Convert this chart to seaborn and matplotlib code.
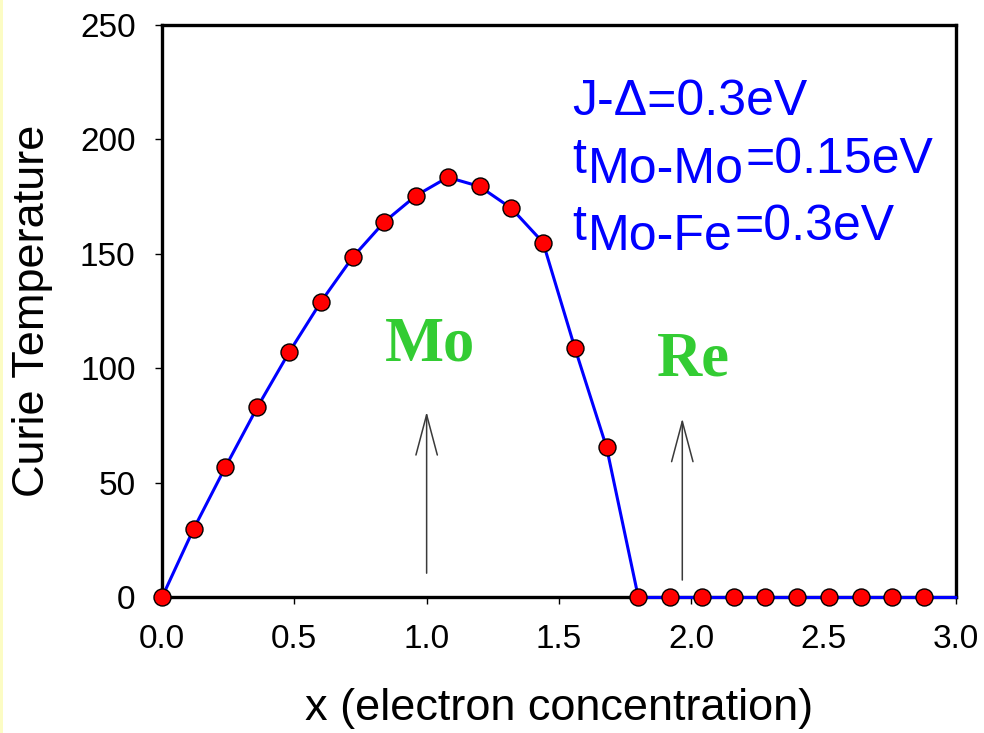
import matplotlib
matplotlib.use("Agg")
import matplotlib.pyplot as plt
import matplotlib.transforms as mtransforms
from matplotlib.patches import Rectangle
import seaborn as sns
import pandas as pd

# Curie temperature vs. electron concentration (x = 0 ... 2.88 in steps of 0.12)
x_conc = [0.00, 0.12, 0.24, 0.36, 0.48, 0.60, 0.72, 0.84, 0.96, 1.08,
          1.20, 1.32, 1.44, 1.56, 1.68, 1.80, 1.92, 2.04, 2.16, 2.28,
          2.40, 2.52, 2.64, 2.76, 2.88]
curie_t = [0, 30, 57, 83, 107, 129, 148.5, 164, 175.5, 183.5,
           179.5, 170, 155, 109, 65.5, 0, 0, 0, 0, 0,
           0, 0, 0, 0, 0]
# the curve runs on to the edge of the range
x_line_end = 3.0
curie_line_end = 0

x_ticks = [0.0, 0.5, 1.0, 1.5, 2.0, 2.5, 3.0]
y_ticks = [0, 50, 100, 150, 200, 250]

params_lines = [
    [("J-\u0394=0.3eV", 0)],
    [("t", 0), ("Mo-Mo", -7.2), ("=0.15eV", 0)],
    [("t", 0), ("Mo-Fe", -7.2), ("=0.3eV", 0)],
]
param_baselines = [210.5, 185.2, 156.0]

element_labels = ["Mo", "Re"]
element_pos = [(1.013, 103.6), (2.008, 97.1)]
arrow_x = [1.0, 1.966]
arrow_tail = [10.6, 7.6]
arrow_tip = [81.1, 78.2]

sns.set_theme(style="ticks")
plt.rcParams["font.family"] = ["Liberation Sans", "DejaVu Sans"]

fig = plt.figure(figsize=(9.84, 7.33), dpi=100)
fig.patch.set_facecolor("white")
ax = fig.add_axes([0.1646, 0.1849, 0.8069, 0.781])
ax.set_facecolor("white")

# faint yellow edge at the left of the slide
fig.patches.append(Rectangle((0, 0), 3 / 984, 1, transform=fig.transFigure,
                             facecolor="#fcfcc4", edgecolor="none", zorder=0))

line_df = pd.DataFrame({"x": x_conc + [x_line_end],
                        "tc": curie_t + [curie_line_end]})
pts_df = pd.DataFrame({"x": x_conc, "tc": curie_t})

sns.lineplot(data=line_df, x="x", y="tc", ax=ax, color="#0000ff",
             linewidth=2.2, clip_on=False, zorder=3, sort=False)
sns.scatterplot(data=pts_df, x="x", y="tc", ax=ax, color="#ff0000",
                edgecolor="black", linewidth=1.0, s=150, clip_on=False,
                zorder=4)

ax.set_xlim(0, 3.0)
ax.set_ylim(0, 250)
ax.set_xticks(x_ticks)
ax.set_xticklabels([f"{v:.1f}" for v in x_ticks])
ax.set_yticks(y_ticks)
ax.set_yticklabels([str(v) for v in y_ticks])

for side in ["left", "bottom", "top", "right"]:
    ax.spines[side].set_visible(True)
    ax.spines[side].set_color("black")
    ax.spines[side].set_linewidth(2.4)

ax.tick_params(axis="both", direction="out", length=5, width=1.0,
               color="black", labelsize=24, pad=14, labelcolor="black")
ax.tick_params(axis="x", top=False)
ax.tick_params(axis="y", right=False)

ax.set_xlabel("x (electron concentration)", fontsize=32.5, color="black")
ax.set_ylabel("Curie Temperature", fontsize=32.5, color="black")
ax.xaxis.set_label_coords(0.5, -0.158)
ax.yaxis.set_label_coords(-0.137, 0.5)

# arrows marking the Mo and Re positions
for xa, y0, y1 in zip(arrow_x, arrow_tail, arrow_tip):
    ax.annotate("", xy=(xa, y1), xytext=(xa, y0),
                arrowprops=dict(arrowstyle="->,head_length=2.9,head_width=0.77",
                                color="#3a3a3a", linewidth=1.1,
                                shrinkA=0, shrinkB=0, mutation_scale=10))

for label, (xe, ye) in zip(element_labels, element_pos):
    ax.text(xe, ye, label, ha="center", va="baseline", fontsize=45,
            fontweight="bold", color="#33cc33",
            family=["Liberation Serif", "DejaVu Serif"])

# model parameters, with subscripts set as lowered runs of text
fig.canvas.draw()
renderer = fig.canvas.get_renderer()
x_left = 1.549
for pieces, yb in zip(params_lines, param_baselines):
    dx = 0.0
    for s, dy in pieces:
        tr = mtransforms.offset_copy(ax.transData, fig=fig, x=dx,
                                     y=dy * fig.dpi / 72.0, units="dots")
        t = ax.text(x_left, yb, s, transform=tr, ha="left", va="baseline",
                    fontsize=36, color="#0000ff")
        bb = t.get_window_extent(renderer)
        dx += bb.width + 2

fig.savefig("out.png", dpi=100)
